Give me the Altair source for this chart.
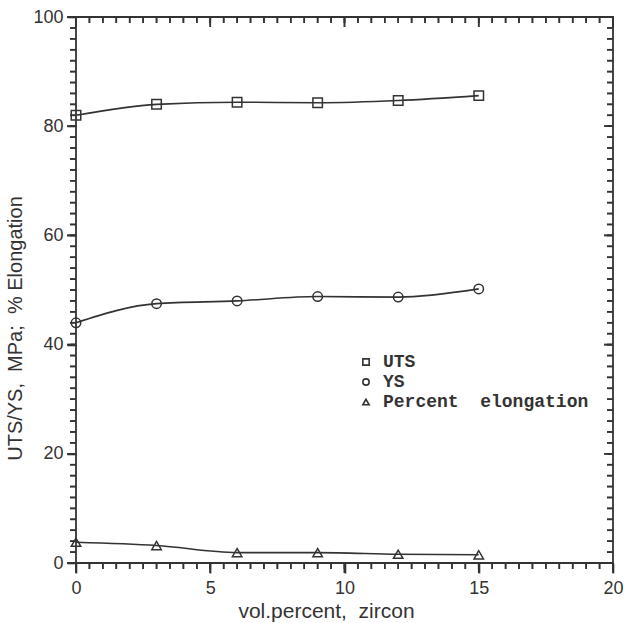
import altair as alt
import pandas as pd

vol = [0, 3, 6, 9, 12, 15]
uts = [82.0, 84.0, 84.4, 84.3, 84.7, 85.6]
ys = [44.0, 47.5, 48.0, 48.8, 48.7, 50.2]
elong = [3.8, 3.2, 1.9, 1.9, 1.6, 1.5]
series_names = ["UTS", "YS", "Percent\u00a0 elongation"]
shapes = ["square", "circle", "triangle-up"]

x_major = [0, 5, 10, 15, 20]
y_major = [0, 20, 40, 60, 80, 100]
x_minor = [i * 0.5 for i in range(41)]
y_minor = [i * 2 for i in range(51)]

rows = []
for name, vals in zip(series_names, [uts, ys, elong]):
    for xv, yv in zip(vol, vals):
        rows.append({"vol": xv, "val": yv, "series": name})
df = pd.DataFrame(rows)

W, H = 537, 546
FONT = "Liberation Sans"
INK = "#333"

x_scale = alt.Scale(domain=[0, 20], nice=False, zero=False)
y_scale = alt.Scale(domain=[0, 100], nice=False, zero=False)

x_main = alt.Axis(
    values=x_major, ticks=True, tickSize=10, tickColor=INK, tickWidth=1.6,
    domain=False, grid=False, format="d",
    labelFont=FONT, labelFontSize=18, labelColor=INK, labelPadding=6,
    labelFlush=False, labelOverlap=False,
    title="vol.percent,\u00a0 zircon", titleFont=FONT, titleFontSize=21,
    titleFontWeight="normal", titleColor=INK, titlePadding=3, titleX=250,
)
y_main = alt.Axis(
    values=y_major, ticks=True, tickSize=9, tickColor=INK, tickWidth=1.6,
    domain=False, grid=False, format="d",
    labelFont=FONT, labelFontSize=18, labelColor=INK, labelPadding=4,
    labelFlush=False, labelOverlap=False,
    title="UTS/YS,\u00a0 MPa;\u00a0 % Elongation", titleFont=FONT, titleFontSize=20,
    titleFontWeight="normal", titleColor=INK, titleX=-51, titleY=311,
)


def x_ticks(values, p0, p1):
    data = pd.DataFrame({"vol": values})
    rule = alt.Chart(data).mark_rule(color=INK, strokeWidth=1.6).encode(
        x=alt.X("vol:Q", scale=x_scale, axis=x_main),
        y=alt.value(p0), y2=alt.value(p1),
    )
    tick = alt.Chart(data).mark_tick(
        color=INK, thickness=1.6, size=p1 - p0, orient="vertical", opacity=1
    ).encode(
        x=alt.X("vol:Q", scale=x_scale, axis=x_main),
        y=alt.value((p0 + p1) / 2),
    )
    return [rule, tick]


def y_ticks(values, p0, p1):
    data = pd.DataFrame({"val": values})
    rule = alt.Chart(data).mark_rule(color=INK, strokeWidth=1.6).encode(
        y=alt.Y("val:Q", scale=y_scale, axis=y_main),
        x=alt.value(p0), x2=alt.value(p1),
    )
    tick = alt.Chart(data).mark_tick(
        color=INK, thickness=1.6, size=p1 - p0, orient="horizontal", opacity=1
    ).encode(
        y=alt.Y("val:Q", scale=y_scale, axis=y_main),
        x=alt.value((p0 + p1) / 2),
    )
    return [rule, tick]


tick_layers = (
    x_ticks(x_minor, H, H + 6) + x_ticks(x_major, H, H + 10)        # bottom, outward
    + x_ticks(x_minor, 0, 6) + x_ticks(x_major, 0, 10)              # top, inward
    + y_ticks(y_minor, -6, 0) + y_ticks(y_major, -9, 0)             # left, outward
    + y_ticks(y_minor, W - 6, W) + y_ticks(y_major, W - 9, W)       # right, inward
)

base = alt.Chart(df)
enc_shape = alt.Shape(
    "series:N",
    scale=alt.Scale(domain=series_names, range=shapes),
    legend=alt.Legend(
        title=None, orient="none", legendX=281, legendY=336,
        labelFont="Liberation Mono", labelFontSize=18, labelFontWeight="bold",
        labelColor=INK, symbolSize=40, symbolStrokeWidth=1.6,
        symbolStrokeColor=INK, symbolFillColor="transparent",
        rowPadding=2, labelOffset=8, labelLimit=400,
    ),
)

lines = base.mark_line(interpolate="monotone", color=INK, strokeWidth=1.6).encode(
    x=alt.X("vol:Q", scale=x_scale, axis=x_main),
    y=alt.Y("val:Q", scale=y_scale, axis=y_main),
    detail="series:N",
)

points = base.mark_point(filled=False, color=INK, strokeWidth=1.5, size=90, opacity=1).encode(
    x=alt.X("vol:Q", scale=x_scale, axis=x_main),
    y=alt.Y("val:Q", scale=y_scale, axis=y_main),
    shape=enc_shape,
)

chart = alt.layer(*tick_layers, lines, points).properties(
    width=W, height=H,
    autosize=alt.AutoSizeParams(type="none"),
    padding={"left": 76, "top": 17, "right": 11, "bottom": 60},
    background="white",
).configure_view(stroke=INK, strokeWidth=1.8)

chart.save("out.html", embed_options={"renderer": "svg", "actions": False})
